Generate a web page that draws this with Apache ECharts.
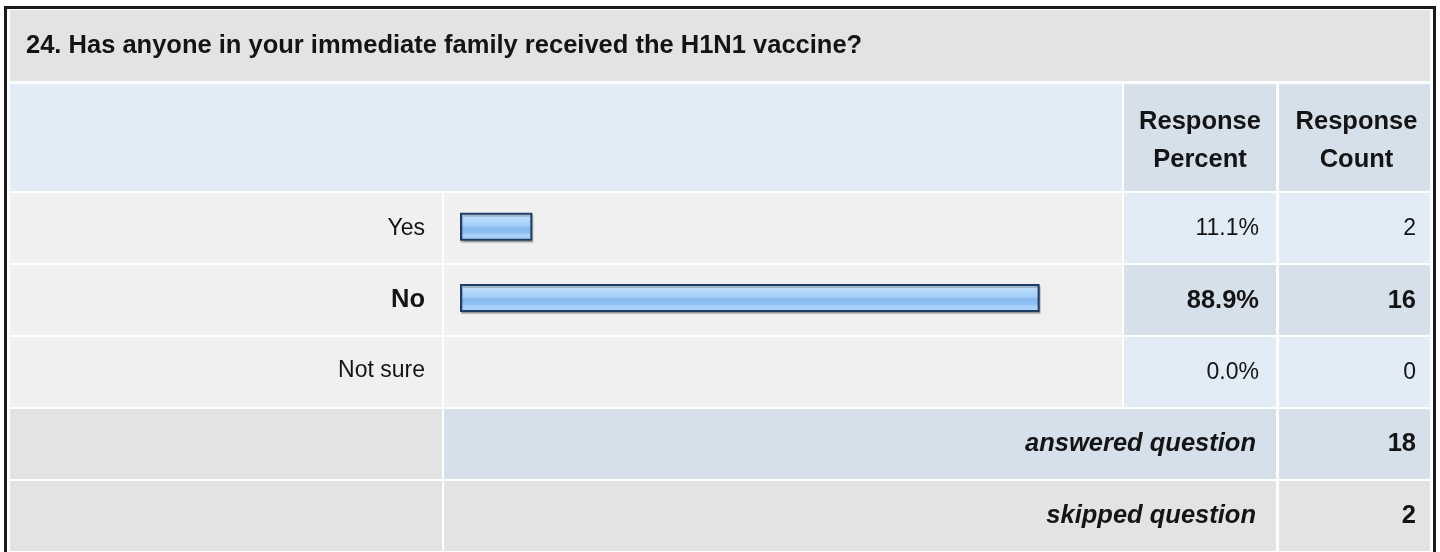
<!DOCTYPE html>
<html>
<head>
<meta charset="utf-8">
<title>H1N1 vaccine</title>
<script src="https://cdn.jsdelivr.net/npm/echarts@6/dist/echarts.min.js"></script>
<style>
  html, body { margin: 0; padding: 0; background: #ffffff; }
  #chart { width: 1440px; height: 552px; }
</style>
</head>
<body>
<div id="chart"></div>
<script>
// 数据
const questionTitle = '24. Has anyone in your immediate family received the H1N1 vaccine?';
const categories = ['Yes', 'No', 'Not sure'];
const percents = [11.1, 88.9, 0.0];
const counts = [2, 16, 0];
const headerLabels = ['Response\nPercent', 'Response\nCount'];
const summaryLabels = ['answered question', 'skipped question'];
const summaryValues = [18, 2];

// 表格布局（像素）
const FONT = '"Liberation Sans", Arial, Helvetica, sans-serif';
const BOLD_SIZE = 25.5;
const NORMAL_SIZE = 23;
const colX = [10, 444, 1124, 1279];     // 左边
const colR = [442, 1122, 1276, 1430];   // 右边
const titleRow = [10, 81];
const headRow = [84, 191];
const rowTops = [193, 265, 337];
const rowH = 70;
const sumTops = [409, 481];

const GRAY = '#e3e3e3';
const LIGHT = '#f0f0f0';
const BLUE1 = '#e2ecf6';
const BLUE2 = '#d5e0ea';
const INK = '#141414';

// 最多人选的那一行加粗
const topIdx = counts.indexOf(Math.max(...counts));

const graphics = [];
const rect = (x1, y1, x2, y2, fill) => graphics.push({
  type: 'rect', z: 0, silent: true,
  shape: { x: x1, y: y1, width: x2 - x1, height: y2 - y1 },
  style: { fill: fill }
});
const text = (x, y, str, align, bold, italic) => graphics.push({
  type: 'text', z: 5, silent: true, x: x, y: y,
  style: {
    text: str, fill: INK, align: align, verticalAlign: 'middle',
    textAlign: align, textVerticalAlign: 'middle', lineHeight: 38,
    font: (italic ? 'italic ' : '') + (bold ? 'bold ' + BOLD_SIZE : 'normal ' + NORMAL_SIZE) + 'px ' + FONT
  }
});

// 外框
graphics.push({
  type: 'rect', z: 1, silent: true,
  shape: { x: 5.5, y: 7.5, width: 1429, height: 600 },
  style: { fill: null, stroke: '#1a1a1a', lineWidth: 3 }
});

// 标题
rect(colX[0], titleRow[0], colR[3], titleRow[1], GRAY);
text(26, 46, questionTitle, 'left', true);

// 表头
rect(colX[0], headRow[0], colR[1], headRow[1], BLUE1);
rect(colX[2], headRow[0], colR[2], headRow[1], BLUE2);
rect(colX[3], headRow[0], colR[3], headRow[1], BLUE2);
text((colX[2] + colR[2]) / 2, 141, headerLabels[0], 'center', true);
text((colX[3] + colR[3]) / 2 + 2, 141, headerLabels[1], 'center', true);

// 数据行
categories.forEach((c, i) => {
  const y1 = rowTops[i], y2 = y1 + rowH, cy = y1 + rowH / 2 + 1;
  const hi = i === topIdx;
  rect(colX[0], y1, colR[0], y2, LIGHT);
  rect(colX[1], y1, colR[1], y2, LIGHT);
  rect(colX[2], y1, colR[2], y2, hi ? BLUE2 : BLUE1);
  rect(colX[3], y1, colR[3], y2, hi ? BLUE2 : BLUE1);
  text(1259, cy, percents[i].toFixed(1) + '%', 'right', hi);
  text(1416, cy, String(counts[i]), 'right', hi);
});

// 汇总行
summaryLabels.forEach((s, i) => {
  const y1 = sumTops[i], y2 = y1 + rowH, cy = y1 + rowH / 2;
  rect(colX[0], y1, colR[0], y2, GRAY);
  rect(colX[1], y1, colR[2], y2, i === 0 ? BLUE2 : GRAY);
  rect(colX[3], y1, colR[3], y2, i === 0 ? BLUE2 : GRAY);
  text(1256, cy, s, 'right', true, true);
  text(1416, cy, String(summaryValues[i]), 'right', true);
});

const barGradient = new echarts.graphic.LinearGradient(0, 0, 0, 1, [
  { offset: 0, color: '#d4eafd' },
  { offset: 0.2, color: '#b9dcfc' },
  { offset: 0.45, color: '#a5cff9' },
  { offset: 0.55, color: '#88baef' },
  { offset: 0.72, color: '#8fc0f2' },
  { offset: 0.8, color: '#a8d2fa' },
  { offset: 1, color: '#a6d0f8' }
]);

const myChart = echarts.init(document.getElementById('chart'));

const option = {
  animation: false,
  backgroundColor: '#ffffff',
  graphic: { elements: graphics },
  grid: { left: 460, top: 191, width: 652, height: 214, containLabel: false },
  xAxis: {
    type: 'value', min: 0, max: 100,
    show: false
  },
  yAxis: {
    type: 'category', data: categories, inverse: true,
    axisLine: { show: false }, axisTick: { show: false }, splitLine: { show: false },
    axisLabel: {
      margin: 35, color: INK, fontFamily: FONT, fontSize: NORMAL_SIZE,
      formatter: (v, i) => i === topIdx ? '{b|' + v + '}' : '{n|' + v + '}',
      rich: {
        b: { fontWeight: 'bold', fontSize: BOLD_SIZE, fontFamily: FONT, color: INK, padding: [3, 0, 0, 0] },
        n: { fontSize: NORMAL_SIZE, fontFamily: FONT, color: INK, padding: [3, 0, 0, 0] }
      }
    }
  },
  series: [{
    type: 'bar',
    z: 3,
    barWidth: 28,
    silent: true,
    data: percents.map(v => ({
      value: v,
      itemStyle: { borderWidth: v > 0 ? 2 : 0 }
    })),
    itemStyle: {
      color: barGradient, borderColor: '#1f3d63', borderWidth: 2,
      shadowColor: 'rgba(0, 0, 0, 0.22)', shadowOffsetX: 1, shadowOffsetY: 2, shadowBlur: 1
    }
  }]
};

myChart.setOption(option);
</script>
</body>
</html>
